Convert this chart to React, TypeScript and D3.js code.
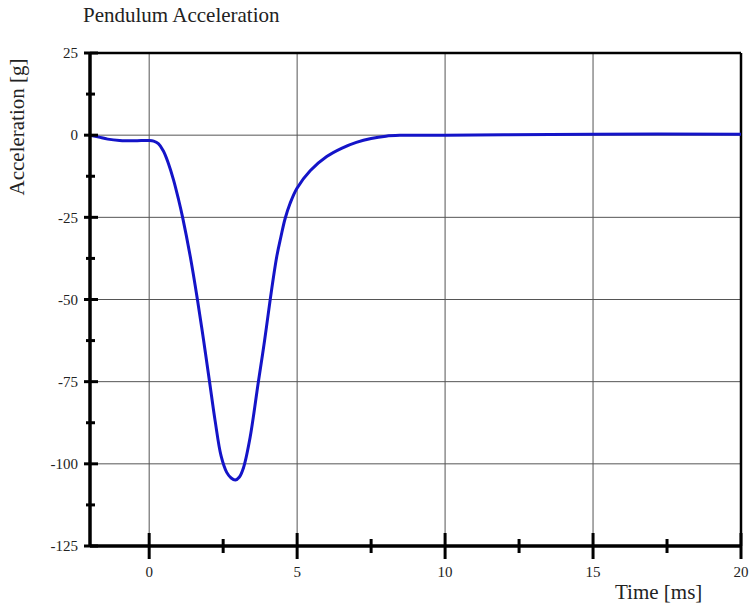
import React from "react";
import * as d3 from "d3";

const timeMs = [-2, -1.7, -1.4, -1, -0.5, 0, 0.15, 0.31, 0.48, 0.65, 0.82, 0.99, 1.13, 1.39, 1.63, 1.84, 2.04, 2.23, 2.43, 2.62, 2.77, 2.91, 3.05, 3.19, 3.41, 3.69, 3.9, 4.09, 4.31, 4.45, 4.59, 4.76, 4.99, 5.44, 6, 6.5, 7, 7.5, 8, 8.5, 9, 10, 12, 15, 20];
const accelG = [0, -0.6, -1.2, -1.6, -1.7, -1.6, -1.8, -2.6, -4.8, -8.6, -13.5, -19.5, -25, -37, -50, -62.5, -75, -87, -97.6, -102.6, -104.3, -104.9, -104, -101.1, -92, -75, -62.5, -50, -37, -31, -25.5, -20.8, -16.2, -10.8, -6.5, -4, -2.2, -1, -0.3, -0.05, 0, 0, 0.1, 0.3, 0.3];

const xMajorTicks = [0, 5, 10, 15, 20];
const xMinorTicks = [2.5, 7.5, 12.5, 17.5];
const yMajorTicks = [25, 0, -25, -50, -75, -100, -125];
const yMinorTicks = [12.5, -12.5, -37.5, -62.5, -87.5, -112.5];
const xGrid = [0, 5, 10, 15];
const yGrid = [0, -25, -50, -75, -100];

const titleText = "Pendulum Acceleration";
const xLabel = "Time [ms]";
const yLabel = "Acceleration [g]";

export default function App() {
  const W = 750, H = 604;
  const left = 90, right = 741, top = 53, bottom = 546;
  const x = d3.scaleLinear().domain([-2, 20]).range([left, right]);
  const y = d3.scaleLinear().domain([-125, 25]).range([bottom, top]);
  const data = timeMs.map((t, i) => [t, accelG[i]] as [number, number]);
  const line = d3.line<[number, number]>().x(d => x(d[0])).y(d => y(d[1])).curve(d3.curveCatmullRom.alpha(0.5));
  const font = '"Liberation Serif", "DejaVu Serif", "Times New Roman", Times, serif';

  return (
    <svg width={W} height={H} style={{ position: "absolute", left: 0, top: 0, background: "#fff", fontFamily: font }}>
      <rect x={0} y={0} width={W} height={H} fill="#fff" />
      <text x={83} y={22} fontSize={21} fill="#222" style={{ fontFamily: font }}>{titleText}</text>
      {xGrid.map(v => (
        <line key={"xg" + v} x1={x(v)} x2={x(v)} y1={top} y2={bottom} stroke="#555" strokeWidth={1} />
      ))}
      {yGrid.map(v => (
        <line key={"yg" + v} x1={left} x2={right} y1={y(v)} y2={y(v)} stroke="#555" strokeWidth={1} />
      ))}
      <line x1={left} x2={right} y1={top} y2={top} stroke="#000" strokeWidth={2.5} />
      <line x1={right} x2={right} y1={top} y2={bottom} stroke="#000" strokeWidth={2.5} />
      <path d={line(data) || ""} fill="none" stroke="#1414c8" strokeWidth={3} />
      <line x1={left} x2={left} y1={top - 1} y2={bottom + 1} stroke="#000" strokeWidth={3.5} />
      <line x1={left} x2={right + 1} y1={bottom} y2={bottom} stroke="#000" strokeWidth={3.5} />
      {yMajorTicks.map(v => (
        <g key={"ym" + v}>
          <line x1={left - 6} x2={left + 8} y1={y(v)} y2={y(v)} stroke="#000" strokeWidth={3} />
          <text x={78} y={y(v)} dy="0.35em" textAnchor="end" fontSize={15} fill="#222" style={{ fontFamily: font }}>{v}</text>
        </g>
      ))}
      {yMinorTicks.map(v => (
        <line key={"yn" + v} x1={left - 4} x2={left + 5} y1={y(v)} y2={y(v)} stroke="#000" strokeWidth={3} />
      ))}
      {xMajorTicks.map(v => (
        <g key={"xm" + v}>
          <line x1={x(v)} x2={x(v)} y1={bottom - 13} y2={bottom + 13} stroke="#000" strokeWidth={3} />
          <text x={x(v)} y={577} textAnchor="middle" fontSize={15} fill="#222" style={{ fontFamily: font }}>{v}</text>
        </g>
      ))}
      {xMinorTicks.map(v => (
        <line key={"xn" + v} x1={x(v)} x2={x(v)} y1={bottom - 7} y2={bottom + 7} stroke="#000" strokeWidth={3} />
      ))}
      <text x={615} y={599} fontSize={21} fill="#222" style={{ fontFamily: font }}>{xLabel}</text>
      <text transform={`translate(24, 127) rotate(-90)`} textAnchor="middle" fontSize={21} fill="#222" style={{ fontFamily: font }}>{yLabel}</text>
    </svg>
  );
}
